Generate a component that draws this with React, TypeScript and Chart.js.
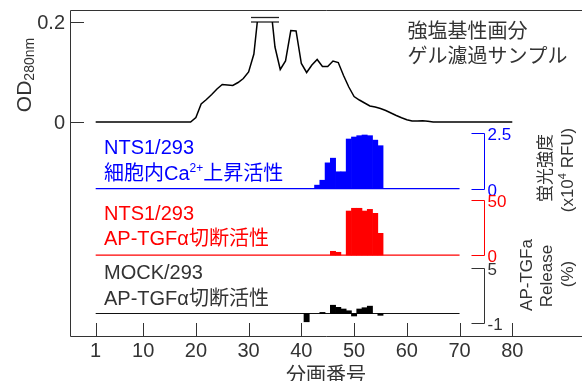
import React, { useEffect, useRef } from "react";
import { Chart, registerables } from "chart.js";

Chart.register(...registerables);

// ---------- data ----------
const odFractions = [
  1, 2, 3, 4, 5, 6, 7, 8, 9, 10, 11, 12, 13, 14, 15, 16, 17, 18, 19, 20,
  21, 22, 23, 24, 25, 26, 27, 28, 29, 30, 31, 32, 33, 34, 35, 36, 37, 38, 39, 40,
  41, 42, 43, 44, 45, 46, 47, 48, 49, 50, 51, 52, 53, 54, 55, 56, 57, 58, 59, 60,
  61, 62, 63, 64, 65, 66, 67, 68, 69, 70, 71, 72, 73, 74, 75, 76, 77, 78, 79, 80,
];
const odValues = [
  0, 0, 0, 0, 0, 0, 0, 0, 0, 0, 0, 0, 0, 0, 0, 0, 0, 0, 0, 0.009,
  0.036, 0.045, 0.055, 0.066, 0.075, 0.074, 0.073, 0.079, 0.087, 0.1, 0.136, 0.235, 0.26, 0.25, 0.15, 0.105, 0.122, 0.183, 0.182, 0.117,
  0.099, 0.114, 0.125, 0.111, 0.111, 0.122, 0.119, 0.093, 0.07, 0.051, 0.044, 0.038, 0.032, 0.03, 0.027, 0.023, 0.018, 0.013, 0.0085, 0.0045,
  0.0022, 0.002, 0.0026, 0.0015, 0, 0, 0, 0, 0, 0, 0, 0, 0, 0, 0, 0, 0, 0, 0, 0,
];
const odClipLevel = 0.2;
const overflowFractions = [30.45, 35.76];
const overflowLevels = [0.2, 0.209];

const panelFractions = [1, 70];

const caFractions = [43, 44, 45, 46, 47, 48, 49, 50, 51, 52, 53, 54, 55];
const caValues = [0.16, 0.38, 1.16, 1.37, 0.76, 0.76, 2.23, 2.32, 2.38, 2.41, 2.38, 2.18, 1.93];

const ntsFractions = [46, 47, 49, 50, 51, 52, 53, 54, 55];
const ntsValues = [3.4, 2.5, 40, 42.5, 42.5, 40, 41.5, 37.9, 19.7];

const mockFractions = [41, 44, 46, 47, 48, 49, 50, 51, 52, 53, 55];
const mockValues = [-0.9, 0.12, 0.9, 0.67, 0.49, 0.3, -0.27, 0.49, 0.63, 0.8, -0.2];

const xTicks = [1, 10, 20, 30, 40, 50, 60, 70, 80];
const odTicks = [0, 0.2];
const odTickLabels = ["0", "0.2"];
const caTicks = [0, 2.5];
const caTickLabels = ["0", "2.5"];
const ntsTicks = [0, 50];
const ntsTickLabels = ["0", "50"];
const mockTicks = [-1, 5];
const mockTickLabels = ["-1", "5"];
const bracketFraction = 74.6;

const xTitle = "分画番号";
const sampleTitle = ["強塩基性画分", "ゲル濾過サンプル"];

// ---------- styling ----------
const BLUE = "#0000ff";
const RED = "#ff0000";
const DARK = "#333333";
const FONT = '"Liberation Sans", "Noto Sans CJK JP", sans-serif';
const f = (s: number) => `${s}px ${FONT}`;

type Seg = { t: string; size: number; dy?: number };

function richWidth(ctx: CanvasRenderingContext2D, segs: Seg[]) {
  let w = 0;
  for (const s of segs) {
    ctx.font = f(s.size);
    w += ctx.measureText(s.t).width;
  }
  return w;
}
function drawRich(ctx: CanvasRenderingContext2D, segs: Seg[], x: number, y: number) {
  let cx = x;
  for (const s of segs) {
    ctx.font = f(s.size);
    ctx.fillText(s.t, cx, y + (s.dy || 0));
    cx += ctx.measureText(s.t).width;
  }
}
function drawRotated(
  ctx: CanvasRenderingContext2D,
  segs: Seg[],
  cx: number,
  cy: number,
  color: string,
  baseline: CanvasTextBaseline = "middle"
) {
  ctx.save();
  ctx.translate(cx, cy);
  ctx.rotate(-Math.PI / 2);
  ctx.fillStyle = color;
  ctx.textAlign = "left";
  ctx.textBaseline = baseline;
  const w = richWidth(ctx, segs);
  drawRich(ctx, segs, -w / 2, 0);
  ctx.restore();
}

const clipPlugin = {
  id: "odClip",
  beforeDatasetDraw(chart: any, args: any) {
    if (chart.data.datasets[args.index].label !== "OD") return;
    const ctx = chart.ctx;
    const ca = chart.chartArea;
    const yTop = chart.scales.yOD.getPixelForValue(odClipLevel);
    ctx.save();
    ctx.beginPath();
    ctx.rect(ca.left, yTop, ca.right - ca.left, ca.bottom - yTop);
    ctx.clip();
  },
  afterDatasetDraw(chart: any, args: any) {
    if (chart.data.datasets[args.index].label !== "OD") return;
    chart.ctx.restore();
  },
};

const decorPlugin = {
  id: "decor",
  afterDraw(chart: any) {
    const ctx: CanvasRenderingContext2D = chart.ctx;
    const ca = chart.chartArea;
    const xs = chart.scales.x;
    ctx.save();

    // frame
    ctx.strokeStyle = DARK;
    ctx.lineWidth = 1;
    ctx.beginPath();
    ctx.moveTo(ca.right, ca.top + 0.5);
    ctx.lineTo(ca.left + 0.5, ca.top + 0.5);
    ctx.lineTo(ca.left + 0.5, ca.bottom - 0.5);
    ctx.lineTo(ca.right, ca.bottom - 0.5);
    ctx.stroke();

    // x ticks (inward) + labels
    ctx.beginPath();
    for (const v of xTicks) {
      const px = Math.round(xs.getPixelForValue(v)) + 0.5;
      ctx.moveTo(px, ca.bottom);
      ctx.lineTo(px, ca.bottom - 14);
    }
    ctx.stroke();
    ctx.fillStyle = DARK;
    ctx.font = f(20);
    ctx.textAlign = "center";
    ctx.textBaseline = "alphabetic";
    for (const v of xTicks) {
      ctx.fillText(String(v), xs.getPixelForValue(v), ca.bottom + 20);
    }
    ctx.fillText(xTitle, (ca.left + ca.right) / 2, ca.bottom + 45);

    // left OD axis ticks
    const yOD = chart.scales.yOD;
    ctx.beginPath();
    for (const v of odTicks) {
      const py = Math.round(yOD.getPixelForValue(v)) + 0.5;
      ctx.moveTo(ca.left, py);
      ctx.lineTo(ca.left + 14, py);
    }
    ctx.stroke();
    ctx.textAlign = "right";
    ctx.textBaseline = "middle";
    ctx.font = f(20);
    odTicks.forEach((v, i) => {
      ctx.fillText(odTickLabels[i], ca.left - 5, yOD.getPixelForValue(v) + 1);
    });
    const odMid = (yOD.getPixelForValue(odTicks[0]) + yOD.getPixelForValue(odTicks[1])) / 2 + 3;
    drawRotated(
      ctx,
      [
        { t: "OD", size: 21 },
        { t: "280nm", size: 14, dy: 3 },
      ],
      ca.left - 39,
      odMid,
      DARK,
      "alphabetic"
    );

    // right brackets
    const bx = Math.round(xs.getPixelForValue(bracketFraction)) + 0.5;
    const brackets = [
      { id: "yCa", ticks: caTicks, labels: caTickLabels, color: BLUE },
      { id: "yNts", ticks: ntsTicks, labels: ntsTickLabels, color: RED },
      { id: "yMock", ticks: mockTicks, labels: mockTickLabels, color: DARK },
    ];
    for (const b of brackets) {
      const s = chart.scales[b.id];
      const y0 = Math.round(s.getPixelForValue(b.ticks[0])) + 0.5;
      const y1 = Math.round(s.getPixelForValue(b.ticks[1])) + 0.5;
      ctx.strokeStyle = b.color;
      ctx.lineWidth = 1;
      ctx.beginPath();
      ctx.moveTo(bx - 13, y1);
      ctx.lineTo(bx, y1);
      ctx.lineTo(bx, y0);
      ctx.lineTo(bx - 13, y0);
      ctx.stroke();
      ctx.fillStyle = b.color;
      ctx.font = f(17);
      ctx.textAlign = "left";
      ctx.textBaseline = "middle";
      ctx.fillText(b.labels[0], bx + 3, y0 + 1.5);
      ctx.fillText(b.labels[1], bx + 3, y1 + 1.5);
    }

    // right titles
    drawRotated(ctx, [{ t: "蛍光強度", size: 17 }], 546, 168, DARK);
    drawRotated(
      ctx,
      [
        { t: "(x10", size: 17 },
        { t: "4", size: 11, dy: -6 },
        { t: " RFU)", size: 17 },
      ],
      568.5,
      170,
      DARK
    );
    drawRotated(ctx, [{ t: "AP-TGFa", size: 17 }], 527, 275, DARK);
    drawRotated(ctx, [{ t: "Release", size: 17 }], 547.5, 276, DARK);
    drawRotated(ctx, [{ t: "(%)", size: 17 }], 568.5, 274, DARK);

    // panel labels
    ctx.textAlign = "left";
    ctx.textBaseline = "alphabetic";
    ctx.fillStyle = BLUE;
    drawRich(ctx, [{ t: "NTS1/293", size: 20 }], 104, 153.5);
    drawRich(
      ctx,
      [
        { t: "細胞内Ca", size: 20 },
        { t: "2+", size: 12, dy: -8 },
        { t: "上昇活性", size: 20 },
      ],
      104,
      179.5
    );
    ctx.fillStyle = RED;
    drawRich(ctx, [{ t: "NTS1/293", size: 20 }], 104, 219.5);
    drawRich(ctx, [{ t: "AP-TGFα切断活性", size: 20 }], 104, 244.5);
    ctx.fillStyle = DARK;
    drawRich(ctx, [{ t: "MOCK/293", size: 20 }], 104, 278.5);
    drawRich(ctx, [{ t: "AP-TGFα切断活性", size: 20 }], 104, 304.5);

    // sample title
    ctx.textBaseline = "middle";
    ctx.font = f(20);
    ctx.fillText(sampleTitle[0], 407.5, 32);
    ctx.fillText(sampleTitle[1], 407.5, 57.5);

    ctx.restore();
  },
};

const pts = (xs: number[], ys: number[]) => xs.map((x, i) => ({ x, y: ys[i] }));
const flat = (xs: number[], y: number) => xs.map((x) => ({ x, y }));

export default function App() {
  const ref = useRef<HTMLCanvasElement | null>(null);

  useEffect(() => {
    if (!ref.current) return;
    const barCommon = {
      type: "bar" as const,
      grouped: false,
      barPercentage: 1,
      categoryPercentage: 1,
      borderWidth: 0,
    };
    const lineCommon = {
      type: "line" as const,
      pointRadius: 0,
      tension: 0,
      fill: false,
    };
    const chart = new Chart(ref.current, {
      type: "bar",
      data: {
        datasets: [
          {
            ...barCommon,
            label: "Ca",
            data: pts(caFractions, caValues),
            backgroundColor: BLUE,
            yAxisID: "yCa",
          },
          {
            ...barCommon,
            label: "NTS",
            data: pts(ntsFractions, ntsValues),
            backgroundColor: RED,
            yAxisID: "yNts",
          },
          {
            ...barCommon,
            label: "MOCK",
            data: pts(mockFractions, mockValues),
            backgroundColor: "#000000",
            yAxisID: "yMock",
          },
          {
            ...lineCommon,
            label: "caBase",
            data: flat(panelFractions, 0),
            borderColor: BLUE,
            borderWidth: 1.2,
            yAxisID: "yCa",
          },
          {
            ...lineCommon,
            label: "ntsBase",
            data: flat(panelFractions, 0),
            borderColor: RED,
            borderWidth: 1.2,
            yAxisID: "yNts",
          },
          {
            ...lineCommon,
            label: "mockBase",
            data: flat(panelFractions, 0),
            borderColor: "#111111",
            borderWidth: 1.2,
            yAxisID: "yMock",
          },
          {
            ...lineCommon,
            label: "OD",
            data: pts(odFractions, odValues),
            borderColor: "#000000",
            borderWidth: 1.5,
            yAxisID: "yOD",
          },
          {
            ...lineCommon,
            label: "over1",
            data: flat(overflowFractions, overflowLevels[0]),
            borderColor: "#222222",
            borderWidth: 1.3,
            yAxisID: "yOD",
          },
          {
            ...lineCommon,
            label: "over2",
            data: flat(overflowFractions, overflowLevels[1]),
            borderColor: "#222222",
            borderWidth: 1.3,
            yAxisID: "yOD",
          },
        ] as any,
      },
      options: {
        animation: false,
        responsive: false,
        layout: { padding: { left: 70, top: 10, right: 0, bottom: 44 } },
        plugins: { legend: { display: false }, tooltip: { enabled: false } },
        events: [],
        scales: {
          x: {
            type: "linear",
            min: -3.87,
            max: 93.22,
            offset: false,
            display: false,
            grid: { offset: false },
            afterBuildTicks: (s: any) => {
              s.ticks = xTicks.map((v) => ({ value: v }));
            },
          },
          yOD: { type: "linear", min: -0.43, max: 0.224, display: false },
          yCa: { type: "linear", min: -6.656, max: 8.02, display: false },
          yNts: { type: "linear", min: -74.5, max: 222.7, display: false },
          yMock: { type: "linear", min: -2.554, max: 32.99, display: false },
        } as any,
      },
      plugins: [clipPlugin, decorPlugin],
    });
    return () => chart.destroy();
  }, []);

  return (
    <div style={{ position: "absolute", left: 0, top: 0, width: 582, height: 381, background: "#fff" }}>
      <canvas ref={ref} width={582} height={381} style={{ display: "block", width: 582, height: 381 }} />
    </div>
  );
}
